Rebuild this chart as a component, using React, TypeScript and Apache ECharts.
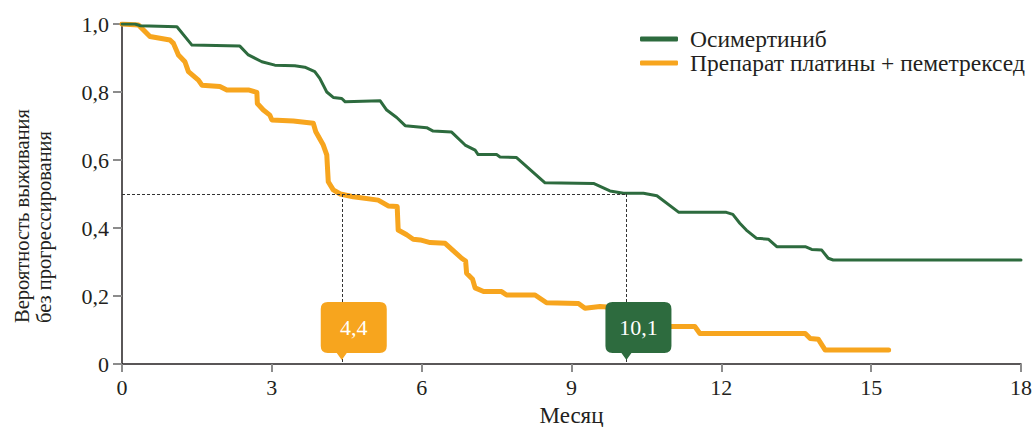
import React, { useEffect, useRef } from "react";
import * as echarts from "echarts";

const seriesNames = ["Осимертиниб", "Препарат платины + пеметрексед"];

const osiMonths = [0, 0.26, 0.36, 1.1, 1.4, 2.36, 2.53, 2.8, 3.06, 3.46, 3.66, 3.86, 3.96, 4.1, 4.23, 4.4, 4.47, 5.17, 5.3, 5.5, 5.67, 6.1, 6.23, 6.6, 6.87, 7.07, 7.13, 7.5, 7.57, 7.9, 8.47, 9.44, 9.77, 10.04, 10.44, 10.71, 11.15, 12.1, 12.23, 12.37, 12.5, 12.7, 12.94, 13.11, 13.68, 13.81, 14.01, 14.14, 14.24, 18];
const osiSurv = [1, 1, 0.995, 0.992, 0.938, 0.935, 0.909, 0.889, 0.879, 0.877, 0.873, 0.86, 0.84, 0.8, 0.784, 0.781, 0.771, 0.774, 0.747, 0.725, 0.701, 0.695, 0.685, 0.682, 0.644, 0.629, 0.616, 0.616, 0.609, 0.607, 0.533, 0.531, 0.509, 0.502, 0.502, 0.495, 0.446, 0.446, 0.44, 0.414, 0.394, 0.37, 0.367, 0.345, 0.345, 0.337, 0.335, 0.311, 0.306, 0.306];

const chemoMonths = [0, 0.33, 0.43, 0.56, 0.96, 1.03, 1.13, 1.26, 1.33, 1.53, 1.6, 1.96, 2.1, 2.53, 2.7, 2.71, 2.83, 2.96, 3.0, 3.43, 3.83, 3.88, 4.03, 4.1, 4.13, 4.23, 4.37, 4.63, 5.13, 5.33, 5.51, 5.53, 5.7, 5.83, 5.97, 6.17, 6.47, 6.8, 6.88, 6.9, 7.02, 7.07, 7.24, 7.6, 7.7, 8.27, 8.5, 9.14, 9.27, 9.57, 10.0, 10.2, 10.9, 11.47, 11.57, 13.68, 13.78, 13.94, 14.08, 15.35];
const chemoSurv = [1, 0.997, 0.982, 0.963, 0.953, 0.943, 0.909, 0.889, 0.86, 0.835, 0.82, 0.816, 0.806, 0.806, 0.799, 0.766, 0.747, 0.732, 0.718, 0.715, 0.708, 0.683, 0.644, 0.615, 0.536, 0.512, 0.5, 0.492, 0.482, 0.465, 0.463, 0.394, 0.38, 0.367, 0.365, 0.357, 0.355, 0.311, 0.303, 0.267, 0.249, 0.224, 0.213, 0.213, 0.203, 0.203, 0.18, 0.178, 0.164, 0.169, 0.165, 0.13, 0.11, 0.11, 0.09, 0.09, 0.075, 0.073, 0.041, 0.041];

const medianLevel = 0.5;
const medianOsi = 10.1;
const medianChemo = 4.4;
const medianOsiLabel = "10,1";
const medianChemoLabel = "4,4";

const xTitle = "Месяц";
const yTitle = "Вероятность выживания\nбез прогрессирования";

const GREEN = "#2d6b3e";
const ORANGE = "#f7a51e";
const TEXT = "#231f20";
const FONT = "'Liberation Serif', 'DejaVu Serif', serif";

const CALLOUT =
  "path://M7,0 H59 Q66,0 66,7 V44 Q66,51 59,51 H26 L21,58 L16,51 H7 Q0,51 0,44 V7 Q0,0 7,0 Z";

function zip(xs: number[], ys: number[]) {
  return xs.map((x, i) => [x, ys[i]]);
}

function callout(x: number, text: string, color: string) {
  return {
    coord: [x, 0],
    name: text,
    symbol: CALLOUT,
    symbolSize: [66, 58],
    symbolOffset: [12, -33],
    itemStyle: { color },
    label: {
      show: true,
      formatter: "{b}",
      color: "#ffffff",
      fontFamily: FONT,
      fontSize: 22,
      offset: [0, -3.5],
    },
  };
}

export default function App() {
  const ref = useRef<HTMLDivElement>(null);
  useEffect(() => {
    if (!ref.current) return;
    const chart = echarts.init(ref.current, undefined, { renderer: "svg" });
    const dash = { type: [3, 2] as any, color: "#333", width: 1 };
    chart.setOption({
      animation: false,
      textStyle: { fontFamily: FONT, color: TEXT },
      grid: { left: 122, right: 12, top: 24, bottom: 63, outerBoundsMode: "none", containLabel: false },
      legend: {
        orient: "vertical",
        left: 640,
        top: 27,
        padding: 0,
        itemGap: 0,
        itemWidth: 38,
        itemHeight: 5,
        icon: "roundRect",
        data: seriesNames,
        textStyle: { fontFamily: FONT, fontSize: 23.5, color: TEXT, lineHeight: 23, padding: [0, 0, 0, 7] },
      },
      graphic: [
        {
          type: "text",
          x: 33,
          y: 323,
          rotation: Math.PI / 2,
          silent: true,
          style: {
            text: yTitle,
            align: "left",
            verticalAlign: "middle",
            fontFamily: FONT,
            fontSize: 20.5,
            lineHeight: 21.5,
            fill: TEXT,
          },
        },
      ],
      xAxis: {
        type: "value",
        min: 0,
        max: 18,
        interval: 3,
        name: xTitle,
        nameLocation: "middle",
        nameGap: 40,
        nameTextStyle: { fontFamily: FONT, fontSize: 23, color: TEXT },
        axisLine: { show: true, lineStyle: { color: "#231f20", width: 1.5 } },
        axisTick: { show: true, length: 8, lineStyle: { color: "#8c8c8c", width: 2 } },
        axisLabel: { fontFamily: FONT, fontSize: 22, color: TEXT, margin: 12 },
        splitLine: { show: false },
      },
      yAxis: {
        type: "value",
        min: 0,
        max: 1,
        interval: 0.2,
        axisLine: { show: true, lineStyle: { color: "#231f20", width: 1.5 } },
        axisTick: { show: true, length: 9, lineStyle: { color: "#8c8c8c", width: 2 } },
        axisLabel: {
          fontFamily: FONT,
          fontSize: 22,
          color: TEXT,
          margin: 13,
          formatter: (v: number) => (v === 0 ? "0" : v.toFixed(1).replace(".", ",")),
        },
        splitLine: { show: false },
      },
      series: [
        {
          name: seriesNames[0],
          type: "line",
          data: zip(osiMonths, osiSurv),
          symbol: "none",
          color: GREEN,
          lineStyle: { color: GREEN, width: 3, cap: "round", join: "round" },
          z: 3,
          markLine: {
            silent: true,
            symbol: ["none", "none"],
            label: { show: false },
            lineStyle: dash,
            emphasis: { disabled: true },
            data: [
              [{ coord: [0, medianLevel] }, { coord: [medianOsi, medianLevel] }],
              [{ coord: [medianChemo, medianLevel] }, { coord: [medianChemo, 0] }],
              [{ coord: [medianOsi, medianLevel] }, { coord: [medianOsi, 0] }],
            ],
          },
        },
        {
          name: seriesNames[1],
          type: "line",
          data: zip(chemoMonths, chemoSurv),
          symbol: "none",
          color: ORANGE,
          lineStyle: { color: ORANGE, width: 5, cap: "round", join: "round" },
          z: 2,
          markPoint: {
            silent: true,
            z: 10,
            data: [callout(medianChemo, medianChemoLabel, ORANGE), callout(medianOsi, medianOsiLabel, GREEN)],
          },
        },
      ],
    });
    return () => chart.dispose();
  }, []);
  return (
    <div
      ref={ref}
      style={{ position: "absolute", left: 0, top: 0, width: 1033, height: 427, background: "#fff" }}
    />
  );
}
